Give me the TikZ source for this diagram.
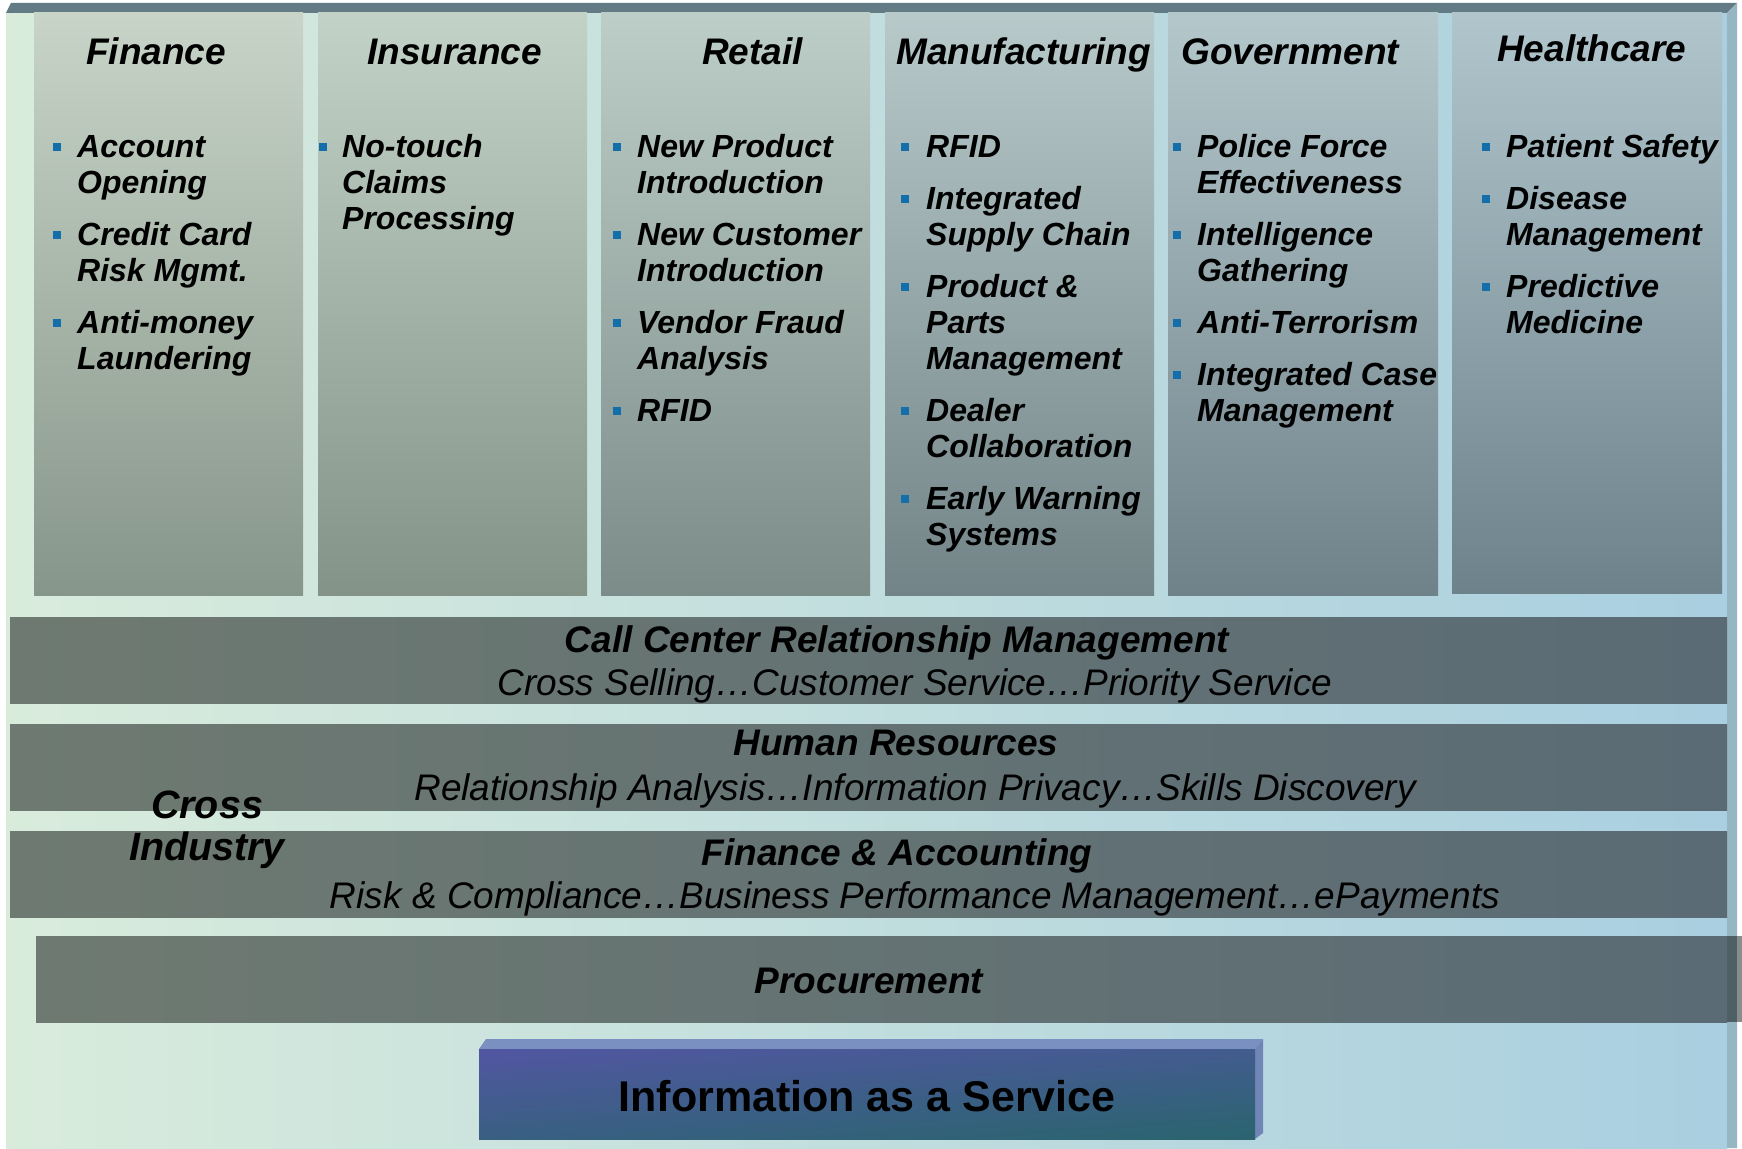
\documentclass[tikz,border=0pt]{standalone}
\usepackage{fontspec}
\setmainfont{Liberation Sans}
\definecolor{bgL}{HTML}{D9ECDC}
\definecolor{bgR}{HTML}{A9CFE0}
\definecolor{topbar}{HTML}{627B85}
\definecolor{sidebar}{HTML}{97B6C3}
\definecolor{bandL}{HTML}{6E7A71}
\definecolor{bandR}{HTML}{5A6B75}
\definecolor{bandEdge}{HTML}{4F5F66}
\definecolor{bandGrey}{HTML}{898B8C}
\definecolor{bulletblue}{HTML}{146EAA}
\definecolor{c1t}{HTML}{C7D4C7}\definecolor{c1b}{HTML}{87968A}
\definecolor{c2t}{HTML}{C3D2C6}\definecolor{c2b}{HTML}{839388}
\definecolor{c3t}{HTML}{BDCEC8}\definecolor{c3b}{HTML}{7B8C89}
\definecolor{c4t}{HTML}{B7C9C9}\definecolor{c4b}{HTML}{738488}
\definecolor{c5t}{HTML}{B4C7CB}\definecolor{c5b}{HTML}{6F828A}
\definecolor{c6t}{HTML}{B1C5CD}\definecolor{c6b}{HTML}{6E828B}
\definecolor{infoA}{HTML}{5057A0}
\definecolor{infoB}{HTML}{2B6470}
\definecolor{infoEdge}{HTML}{7A90C0}
\definecolor{infoSide}{HTML}{7086B6}
\newcommand{\mlines}[1]{\begin{tabular}[t]{@{}l@{}}#1\end{tabular}}
\newcommand{\clines}[1]{\begin{tabular}[t]{@{}c@{}}#1\end{tabular}}
\tikzset{
  hdr/.style={anchor=base west, inner sep=0pt, font=\fontsize{37}{42}\selectfont\bfseries\itshape},
  itm/.style={anchor=base west, inner sep=0pt, font=\fontsize{32}{36}\selectfont\bfseries\itshape},
  bul/.style={fill=bulletblue, draw=none, minimum width=8pt, minimum height=8pt, inner sep=0pt},
  btitle/.style={anchor=base, inner sep=0pt, font=\fontsize{37}{42}\selectfont\bfseries\itshape},
  bsub/.style={anchor=base, inner sep=0pt, font=\fontsize{37}{42}\selectfont\itshape},
  band/.style={left color=bandL, right color=bandR},
}
\begin{document}
\begin{tikzpicture}[x=1pt,y=-1pt]
\useasboundingbox (0,0) rectangle (1742,1148);
\fill[white] (0,0) rectangle (1742,1148);
% background
\shade[left color=bgL, right color=bgR] (6,13) rectangle (1727,1148);
\fill[topbar] (6,13) -- (11,3) -- (1737,3) -- (1727,13) -- cycle;
\fill[sidebar] (1727,13) -- (1737,3) -- (1737,1148) -- (1727,1148) -- cycle;
% columns
\shade[top color=c1t, bottom color=c1b] (34,13) rectangle (303,595);
\shade[top color=c2t, bottom color=c2b] (318,13) rectangle (587,595);
\shade[top color=c3t, bottom color=c3b] (601,13) rectangle (870,595);
\shade[top color=c4t, bottom color=c4b] (885,13) rectangle (1154,595);
\shade[top color=c5t, bottom color=c5b] (1168,13) rectangle (1438,595);
\shade[top color=c6t, bottom color=c6b] (1452,13) rectangle (1722,593);
% headers
\node[hdr] (hfin) at (86,65) {Finance};
\node[hdr] (hins) at (367,65) {Insurance};
\node[hdr] (hret) at (702,65) {Retail};
\node[hdr] (hman) at (896,65) {Manufacturing};
\node[hdr] (hgov) at (1181,65) {Government};
\node[hdr] (hhea) at (1497,62) {Healthcare};
% Finance items
\node[bul] (bf1) at (57,147) {}; \node[itm] (f1) at (77,157) {\mlines{Account\\Opening}};
\node[bul] (bf2) at (57,235) {}; \node[itm] (f2) at (77,245) {\mlines{Credit Card\\Risk Mgmt.}};
\node[bul] (bf3) at (57,323) {}; \node[itm] (f3) at (77,333) {\mlines{Anti-money\\Laundering}};
% Insurance
\node[bul] (bi1) at (323,147) {}; \node[itm] (i1) at (342,157) {\mlines{No-touch\\Claims\\Processing}};
% Retail
\node[bul] (br1) at (617,147) {}; \node[itm] (r1) at (637,157) {\mlines{New Product\\Introduction}};
\node[bul] (br2) at (617,235) {}; \node[itm] (r2) at (637,245) {\mlines{New Customer\\Introduction}};
\node[bul] (br3) at (617,323) {}; \node[itm] (r3) at (637,333) {\mlines{Vendor Fraud\\Analysis}};
\node[bul] (br4) at (617,411) {}; \node[itm] (r4) at (637,421) {\mlines{RFID}};
% Manufacturing
\node[bul] (bm1) at (905,147) {}; \node[itm] (m1) at (926,157) {\mlines{RFID}};
\node[bul] (bm2) at (905,199) {}; \node[itm] (m2) at (926,209) {\mlines{Integrated\\Supply Chain}};
\node[bul] (bm3) at (905,287) {}; \node[itm] (m3) at (926,297) {\mlines{Product \&\\Parts\\Management}};
\node[bul] (bm4) at (905,411) {}; \node[itm] (m4) at (926,421) {\mlines{Dealer\\Collaboration}};
\node[bul] (bm5) at (905,499) {}; \node[itm] (m5) at (926,509) {\mlines{Early Warning\\Systems}};
% Government
\node[bul] (bg1) at (1177,147) {}; \node[itm] (g1) at (1197,157) {\mlines{Police Force\\Effectiveness}};
\node[bul] (bg2) at (1177,235) {}; \node[itm] (g2) at (1197,245) {\mlines{Intelligence\\Gathering}};
\node[bul] (bg3) at (1177,323) {}; \node[itm] (g3) at (1197,333) {\mlines{Anti-Terrorism}};
\node[bul] (bg4) at (1177,375) {}; \node[itm] (g4) at (1197,385) {\mlines{Integrated Case\\Management}};
% Healthcare
\node[bul] (bh1) at (1486,147) {}; \node[itm] (h1) at (1506,157) {\mlines{Patient Safety}};
\node[bul] (bh2) at (1486,199) {}; \node[itm] (h2) at (1506,209) {\mlines{Disease\\Management}};
\node[bul] (bh3) at (1486,287) {}; \node[itm] (h3) at (1506,297) {\mlines{Predictive\\Medicine}};
% bands
\shade[band] (10,617) rectangle (1727,703);
\shade[band] (10,724) rectangle (1727,810);
\shade[band] (10,831) rectangle (1727,917);
\shade[band] (36,936) rectangle (1727,1022);
\fill[bandEdge] (1727,936) rectangle (1737,1022);
\fill[bandGrey] (1737,936) rectangle (1742,1022);
\node[btitle] (cct) at (897,652) {Call Center Relationship Management};
\node[bsub] (ccs) at (915,695) {Cross Selling…Customer Service…Priority Service};
\node[btitle] (hrt) at (896,755) {Human Resources};
\node[bsub] (hrs) at (915,800) {Relationship Analysis…Information Privacy…Skills Discovery};
\node[btitle] (fat) at (897,865) {Finance \& Accounting};
\node[bsub] (fas) at (915,908) {Risk \& Compliance…Business Performance Management…ePayments};
\node[btitle] (pro) at (869,993) {Procurement};
\node[anchor=base, inner sep=0pt, font=\fontsize{39.5}{42}\selectfont\bfseries\itshape] (ci) at (207,818) {\clines{Cross\\Industry}};
% Information as a Service
\fill[infoEdge] (479,1049) -- (486,1039) -- (1263,1039) -- (1255,1049) -- cycle;
\fill[infoSide] (1255,1049) -- (1263,1039) -- (1263,1133) -- (1255,1139) -- cycle;
\shade[top color=infoA, bottom color=infoB, shading angle=4] (479,1049) rectangle (1255,1139);
\node[anchor=base, inner sep=0pt, font=\fontsize{43}{48}\selectfont\bfseries] (info) at (867,1111) {Information as a Service};
\end{tikzpicture}
\end{document}
